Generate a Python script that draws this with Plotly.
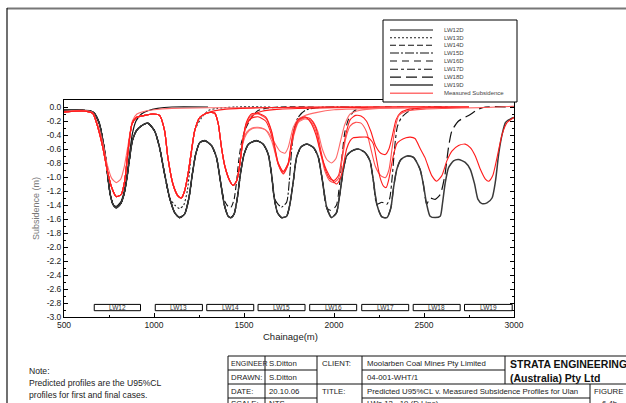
import plotly.graph_objects as go

# ---------------- data ----------------
# Final predicted profile (LW19D): chainage (m), subsidence (m)
final_x = [500, 560, 620, 650, 669, 697, 716, 731, 744, 757, 772, 790, 815, 833, 850, 865, 880, 902, 930, 965,
           1003, 1031, 1059, 1087, 1115, 1142, 1170, 1194, 1213, 1232, 1254, 1282, 1319, 1347, 1369, 1390, 1412,
           1428, 1445, 1463, 1480, 1500, 1525, 1569, 1606, 1634, 1653, 1668, 1686, 1709, 1737, 1755, 1774, 1792,
           1817, 1848, 1886, 1913, 1936, 1960, 1986, 2014, 2032, 2051, 2070, 2098, 2135, 2172, 2200, 2219, 2238,
           2266, 2294, 2316, 2331, 2349, 2372, 2405, 2442, 2478, 2496, 2515, 2534, 2562, 2590, 2602, 2617, 2636,
           2664, 2692, 2729, 2757, 2781, 2800, 2822, 2850, 2878, 2897, 2915, 2934, 2953, 2981, 3000]
final_y = [-0.04, -0.04, -0.05, -0.06, -0.09, -0.24, -0.48, -0.72, -1.01, -1.25, -1.39, -1.44, -1.38, -1.25, -1.01,
           -0.72, -0.48, -0.34, -0.27, -0.23, -0.34, -0.58, -0.96, -1.30, -1.51, -1.58, -1.53, -1.30, -0.96, -0.67,
           -0.51, -0.48, -0.55, -0.72, -1.06, -1.39, -1.56, -1.58, -1.53, -1.30, -0.96, -0.68, -0.53, -0.48, -0.53,
           -0.67, -0.96, -1.30, -1.51, -1.58, -1.56, -1.39, -1.06, -0.72, -0.57, -0.53, -0.58, -0.72, -1.06, -1.44,
           -1.58, -1.51, -1.25, -0.91, -0.70, -0.63, -0.60, -0.65, -0.77, -1.06, -1.39, -1.57, -1.58, -1.44, -1.15,
           -0.89, -0.75, -0.70, -0.72, -0.89, -1.10, -1.39, -1.56, -1.58, -1.56, -1.39, -1.10, -0.87, -0.77, -0.75,
           -0.79, -0.89, -1.10, -1.32, -1.38, -1.37, -1.30, -1.06, -0.67, -0.39, -0.22, -0.17, -0.15]

# Earlier predicted profiles follow the final one up to their last panel, then recover (tails)
lw12d_tail_x = [790, 815, 833, 850, 865, 880, 900, 930, 970, 1020, 1100, 1300]
lw12d_tail_y = [-1.42, -1.36, -1.22, -0.98, -0.65, -0.38, -0.20, -0.10, -0.05, -0.02, 0.0, 0.0]
lw13d_tail_x = [1115, 1142, 1165, 1185, 1200, 1212, 1228, 1265, 1302, 1350, 1450, 1650]
lw13d_tail_y = [-1.40, -1.45, -1.40, -1.20, -0.85, -0.58, -0.32, -0.15, -0.05, -0.02, 0.0, 0.0]
lw14d_tail_x = [1390, 1412, 1428, 1445, 1458, 1470, 1485, 1504, 1541, 1578, 1620, 1700, 1900]
lw14d_tail_y = [-1.33, -1.42, -1.43, -1.32, -1.08, -0.78, -0.52, -0.34, -0.15, -0.05, -0.02, 0.0, 0.0]
lw15d_tail_x = [1686, 1709, 1737, 1752, 1765, 1780, 1800, 1839, 1900, 1950, 2150]
lw15d_tail_y = [-1.38, -1.43, -1.36, -1.05, -0.60, -0.30, -0.15, -0.05, -0.01, 0.0, 0.0]
lw16d_tail_x = [1986, 2014, 2030, 2045, 2060, 2080, 2110, 2160, 2220, 2420]
lw16d_tail_y = [-1.48, -1.40, -1.12, -0.70, -0.36, -0.18, -0.06, -0.01, 0.0, 0.0]
lw17d_tail_x = [2266, 2294, 2310, 2325, 2338, 2352, 2375, 2410, 2440, 2500, 2700]
lw17d_tail_y = [-1.36, -1.39, -1.30, -0.95, -0.55, -0.28, -0.15, -0.07, -0.03, 0.0, 0.0]
lw18d_tail_x = [2534, 2562, 2590, 2602, 2617, 2636, 2655, 2692, 2748, 2804, 2841, 3000]
lw18d_tail_y = [-1.30, -1.32, -1.25, -1.15, -0.96, -0.58, -0.34, -0.20, -0.12, -0.03, 0.0, 0.0]

profile_names = ["LW12D", "LW13D", "LW14D", "LW15D", "LW16D", "LW17D", "LW18D", "LW19D"]

# Measured subsidence surveys (segments)
m12a_x = [500, 560, 620, 660, 688, 716, 740, 765, 790, 815, 835, 852, 865, 880, 905, 950, 1000, 1100, 1300, 1600,
          2000, 2400, 2750]
m12a_y = [-0.06, -0.05, -0.05, -0.08, -0.25, -0.52, -0.82, -1.02, -1.08, -1.03, -0.85, -0.60, -0.40, -0.20, -0.10,
          -0.06, -0.04, -0.02, -0.01, -0.01, 0.0, 0.0, 0.0]
m12b_x = [500, 560, 620, 660, 688, 716, 740, 765, 790, 818, 837, 852, 865, 878, 902, 949, 995]
m12b_y = [-0.07, -0.06, -0.06, -0.09, -0.29, -0.58, -0.90, -1.15, -1.28, -1.25, -1.06, -0.72, -0.43, -0.24, -0.15,
          -0.12, -0.10]
m13_x = [1031, 1059, 1077, 1105, 1133, 1152, 1170, 1189, 1208, 1226, 1254, 1300]
m13_y = [-0.12, -0.34, -0.72, -1.10, -1.27, -1.30, -1.20, -0.96, -0.63, -0.34, -0.15, -0.08]
m14_x = [1338, 1357, 1375, 1394, 1422, 1440, 1460, 1475]
m14_y = [-0.09, -0.24, -0.58, -0.85, -1.06, -1.12, -1.05, -0.85]

s2_tail_x = [1400, 1600, 2000, 2400, 2750]
s2_tail_y = [-0.03, -0.01, 0.0, 0.0, 0.0]
s3_tail_x = [1494, 1513, 1541, 1560, 1600, 1700, 2000, 2400, 2750]
s3_tail_y = [-0.48, -0.24, -0.15, -0.10, -0.06, -0.03, -0.01, 0.0, 0.0]
s4_tail_x = [1494, 1515, 1545, 1578, 1610, 1634, 1653, 1672, 1700, 1727, 1745, 1758, 1774, 1802, 1839, 1900, 2000,
             2200, 2500, 2750]
s4_tail_y = [-0.50, -0.36, -0.30, -0.29, -0.31, -0.36, -0.44, -0.52, -0.63, -0.66, -0.58, -0.45, -0.29, -0.17,
             -0.12, -0.08, -0.04, -0.02, -0.01, 0.0]
s5_tail_x = [1494, 1515, 1545, 1578, 1620, 1653, 1672, 1690, 1718, 1746, 1760, 1774, 1802, 1839, 1880, 1910, 1935,
             1960, 1986, 2010, 2035, 2060, 2090, 2140, 2250, 2500, 2750]
s5_tail_y = [-0.52, -0.38, -0.31, -0.30, -0.33, -0.48, -0.65, -0.82, -0.96, -0.82, -0.60, -0.43, -0.22, -0.17,
             -0.20, -0.35, -0.60, -0.75, -0.80, -0.74, -0.50, -0.25, -0.10, -0.05, -0.02, -0.01, 0.0]
s6_tail_x = [1494, 1513, 1541, 1578, 1620, 1653, 1672, 1690, 1718, 1746, 1760, 1774, 1802, 1839, 1870, 1900, 1925,
             1950, 1975, 2000, 2025, 2045, 2065, 2090, 2120, 2150, 2180, 2205, 2230, 2260, 2285, 2305, 2325, 2345,
             2370, 2420, 2550, 2750]
s6_tail_y = [-0.48, -0.26, -0.16, -0.14, -0.20, -0.40, -0.62, -0.82, -0.95, -0.82, -0.60, -0.40, -0.20, -0.15,
             -0.17, -0.30, -0.60, -0.88, -1.02, -1.05, -0.98, -0.70, -0.40, -0.18, -0.12, -0.13, -0.20, -0.35,
             -0.55, -0.66, -0.68, -0.60, -0.40, -0.18, -0.08, -0.03, -0.01, 0.0]
s7_tail_x = [1494, 1513, 1541, 1578, 1620, 1653, 1672, 1690, 1718, 1746, 1760, 1774, 1802, 1839, 1870, 1900, 1925,
             1950, 1975, 2000, 2025, 2045, 2065, 2090, 2120, 2150, 2180, 2205, 2230, 2260, 2285, 2305, 2322, 2340,
             2360, 2400, 2500, 2617, 2800, 3000]
s7_tail_y = [-0.47, -0.24, -0.12, -0.10, -0.16, -0.36, -0.60, -0.80, -0.93, -0.80, -0.58, -0.38, -0.20, -0.15,
             -0.20, -0.35, -0.65, -0.92, -1.05, -1.08, -1.02, -0.75, -0.45, -0.27, -0.22, -0.23, -0.35, -0.60,
             -0.85, -0.98, -1.01, -0.90, -0.60, -0.30, -0.12, -0.06, -0.03, -0.02, -0.01, 0.01]
s8_tail_x = [1494, 1513, 1541, 1578, 1620, 1653, 1672, 1690, 1718, 1746, 1760, 1774, 1802, 1839, 1870, 1900, 1930,
             1958, 1986, 2014, 2030, 2042, 2056, 2070, 2090, 2107, 2144, 2182, 2200, 2219, 2238, 2256, 2275, 2290,
             2303, 2318, 2331, 2350, 2367, 2400, 2424, 2450, 2480, 2505, 2530, 2543, 2571, 2599, 2627, 2655, 2692,
             2729, 2757, 2785, 2813, 2841, 2860, 2882, 2906, 2934, 2962, 3000]
s8_tail_y = [-0.46, -0.22, -0.10, -0.09, -0.14, -0.34, -0.58, -0.80, -0.92, -0.80, -0.56, -0.36, -0.18, -0.14,
             -0.22, -0.40, -0.70, -0.90, -1.03, -1.10, -1.05, -0.96, -0.78, -0.60, -0.48, -0.44, -0.43, -0.43,
             -0.46, -0.53, -0.77, -1.01, -1.13, -1.15, -1.05, -0.85, -0.68, -0.52, -0.48, -0.44, -0.43, -0.45,
             -0.60, -0.72, -0.90, -0.98, -1.06, -0.98, -0.77, -0.63, -0.55, -0.53, -0.58, -0.70, -0.89, -1.03,
             -1.06, -0.98, -0.72, -0.39, -0.22, -0.15]

# Longwall panel labels along the bottom
lw_names = ["LW12", "LW13", "LW14", "LW15", "LW16", "LW17", "LW18", "LW19"]
lw_start = [668, 1007, 1293, 1578, 1865, 2154, 2440, 2725]
lw_end = [925, 1269, 1554, 1839, 2126, 2415, 2701, 2990]
lw_box_top = -2.82
lw_box_bottom = -2.91

y_tickvals = [round(-0.2 * i, 1) for i in range(16)]
y_ticktext = ["0.0", "-0.2", "-0.4", "-0.6", "-0.8", "-1.0", "-1.2", "-1.4", "-1.6", "-1.8", "-2.0", "-2.2",
              "-2.4", "-2.6", "-2.8", "-3.0"]
x_tickvals = [500, 1000, 1500, 2000, 2500, 3000]

# ---------------- figure ----------------
FONT = "Liberation Sans, Arial, sans-serif"
L, R, T, B = 64, 514, 100, 317
W, H = R - L, B - T


def px(x):
    return (x - L) / W


def py(y):
    return (B - y) / H


def build(cut_tail_x, cut_tail_y):
    xs = [x for x in final_x if x < cut_tail_x[0]] + cut_tail_x
    ys = [y for x, y in zip(final_x, final_y) if x < cut_tail_x[0]] + cut_tail_y
    return xs, ys


tails = [(lw12d_tail_x, lw12d_tail_y), (lw13d_tail_x, lw13d_tail_y), (lw14d_tail_x, lw14d_tail_y),
         (lw15d_tail_x, lw15d_tail_y), (lw16d_tail_x, lw16d_tail_y), (lw17d_tail_x, lw17d_tail_y),
         (lw18d_tail_x, lw18d_tail_y)]
profiles = [build(tx, ty) for tx, ty in tails] + [(final_x, final_y)]

styles = [
    dict(color="#111111", dash="solid", width=1.2),
    dict(color="#222222", dash="2px,2px", width=1.1),
    dict(color="#111111", dash="6px,3px", width=1.1),
    dict(color="#111111", dash="9px,2px,2px,2px", width=1.1),
    dict(color="#111111", dash="7px,5px", width=1.1),
    dict(color="#111111", dash="8px,3px,3px,3px", width=1.1),
    dict(color="#111111", dash="11px,5px", width=1.2),
    dict(color="#3a3a3a", dash="solid", width=1.5),
]

fig = go.Figure()
for name, (xs, ys), st in zip(profile_names, profiles, styles):
    fig.add_trace(go.Scatter(x=xs, y=ys, mode="lines", name=name,
                             line=dict(color=st["color"], dash=st["dash"], width=st["width"],
                                       shape="spline", smoothing=0.6)))

surveys = [
    (m12a_x, m12a_y),
    (m12b_x + m13_x + s2_tail_x, m12b_y + m13_y + s2_tail_y),
    (m12b_x + m13_x + m14_x + s3_tail_x, m12b_y + m13_y + m14_y + s3_tail_y),
    (m12b_x + m13_x + m14_x + s4_tail_x, m12b_y + m13_y + m14_y + s4_tail_y),
    (m12b_x + m13_x + m14_x + s5_tail_x, m12b_y + m13_y + m14_y + s5_tail_y),
    (m12b_x + m13_x + m14_x + s6_tail_x, m12b_y + m13_y + m14_y + s6_tail_y),
    (m12b_x + m13_x + m14_x + s7_tail_x, m12b_y + m13_y + m14_y + s7_tail_y),
    (m12b_x + m13_x + m14_x + s8_tail_x, m12b_y + m13_y + m14_y + s8_tail_y),
]
red_cols = ["#ff6a6a", "#ff1a1a", "#ff1a1a", "#ff6a6a", "#ff6a6a", "#ff1a1a", "#ff5050", "#ff1a1a"]
for (xs, ys), c in zip(surveys, red_cols):
    fig.add_trace(go.Scatter(x=xs, y=ys, mode="lines", name="Measured Subsidence", showlegend=False,
                             line=dict(color=c, width=1.1, shape="spline", smoothing=0.6)))

shapes = []
annotations = []

# LW panel boxes
for nm, a, b in zip(lw_names, lw_start, lw_end):
    shapes.append(dict(type="rect", xref="x", yref="y", x0=a, x1=b, y0=lw_box_bottom, y1=lw_box_top,
                       line=dict(color="black", width=1), fillcolor="white"))
    annotations.append(dict(x=(a + b) / 2, y=(lw_box_top + lw_box_bottom) / 2, xref="x", yref="y", text=nm,
                            showarrow=False, font=dict(family=FONT, size=6.5, color="#333")))

# legend (drawn by hand to match the compact original)
shapes.append(dict(type="rect", xref="paper", yref="paper", x0=px(383), x1=px(517), y0=py(102), y1=py(20),
                   line=dict(color="black", width=1), fillcolor="white", layer="above"))
leg_rows = [30, 37.8, 45.3, 53, 61, 69.2, 77.2, 85, 93.2]
leg_labels = profile_names + ["Measured Subsidence"]
leg_styles = styles + [dict(color="#ff7070", dash="solid", width=1.5)]
for yy, lab, st in zip(leg_rows, leg_labels, leg_styles):
    shapes.append(dict(type="line", xref="paper", yref="paper", x0=px(390), x1=px(433), y0=py(yy), y1=py(yy),
                       line=dict(color=st["color"], dash=st["dash"], width=st["width"]), layer="above"))
    annotations.append(dict(x=px(442), y=py(yy), xref="paper", yref="paper", text=lab, showarrow=False,
                            xanchor="left", yanchor="middle", font=dict(family=FONT, size=6, color="#444")))

# page frame
shapes.append(dict(type="line", xref="paper", yref="paper", x0=px(7), x1=px(626), y0=py(8.5), y1=py(8.5),
                   line=dict(color="#777", width=2)))
shapes.append(dict(type="line", xref="paper", yref="paper", x0=px(7), x1=px(7), y0=py(8), y1=py(403),
                   line=dict(color="#111", width=1.2)))

# axis titles
annotations.append(dict(x=px(290), y=py(344), xref="paper", yref="paper", text="Chainage(m)", showarrow=False,
                        font=dict(family=FONT, size=9.5, color="#222")))
annotations.append(dict(x=px(29), y=py(209), xref="paper", yref="paper", text="Subsidence (m)", showarrow=False,
                        textangle=-90, font=dict(family=FONT, size=9, color="#777")))

# notes
for yy, t in zip([371, 383, 395], ["Note:", "Predicted profiles are the U95%CL",
                                    "profiles for first and final cases."]):
    annotations.append(dict(x=px(27), y=py(yy), xref="paper", yref="paper", text=t, showarrow=False,
                            xanchor="left", yanchor="middle", font=dict(family=FONT, size=8.6, color="#222")))

# title block table
def hline(y, x0, x1):
    shapes.append(dict(type="line", xref="paper", yref="paper", x0=px(x0), x1=px(x1), y0=py(y), y1=py(y),
                       line=dict(color="#111", width=1)))


def vline(x, y0, y1):
    shapes.append(dict(type="line", xref="paper", yref="paper", x0=px(x), x1=px(x), y0=py(y0), y1=py(y1),
                       line=dict(color="#111", width=1)))


hline(356, 228, 626)
hline(370, 228, 317)
hline(370, 362, 505)
hline(384, 228, 626)
hline(398, 228, 317)
hline(398, 362, 590)
for xx in [228, 265, 317, 362]:
    vline(xx, 356, 403)
vline(505, 356, 384)
vline(590, 384, 403)

cells = [
    (267, 363, "S.Ditton"), (320, 363, "CLIENT:"),
    (365, 363, "Moolarben Coal Mines Pty Limited"),
    (229, 377, "DRAWN:"), (267, 377, "S.Ditton"), (365, 377, "04-001-WHT/1"),
    (229, 391, "DATE:"), (267, 391, "20.10.06"), (320, 391, "TITLE:"),
    (365, 391, "Predicted U95%CL v. Measured Subsidence Profiles for Ulan"), (592, 391, "FIGURE"),
    (229, 403, "SCALE:"), (267, 403, "NTS"), (365, 403, "LWs 12 - 19 (D Line)"), (600, 403, "6.4b"),
]
annotations.append(dict(x=px(229), y=py(363), xref="paper", yref="paper", text="ENGINEER", showarrow=False,
                        xanchor="left", yanchor="middle", font=dict(family=FONT, size=7, color="#222")))
for xx, yy, t in cells:
    annotations.append(dict(x=px(xx), y=py(yy), xref="paper", yref="paper", text=t, showarrow=False,
                            xanchor="left", yanchor="middle", font=dict(family=FONT, size=7.8, color="#222")))
annotations.append(dict(x=px(508), y=py(364), xref="paper", yref="paper", text="<b>STRATA ENGINEERING</b>",
                        showarrow=False, xanchor="left", yanchor="middle",
                        font=dict(family=FONT, size=10.5, color="#111")))
annotations.append(dict(x=px(508), y=py(378), xref="paper", yref="paper", text="<b>(Australia) Pty Ltd</b>",
                        showarrow=False, xanchor="left", yanchor="middle",
                        font=dict(family=FONT, size=10.5, color="#111")))

fig.update_layout(
    width=626, height=403,
    margin=dict(l=L, r=626 - R, t=T, b=403 - B, pad=0),
    paper_bgcolor="white", plot_bgcolor="white",
    showlegend=False,
    font=dict(family=FONT, size=8.5, color="#222"),
    shapes=shapes, annotations=annotations,
    xaxis=dict(range=[500, 3000], tickvals=x_tickvals, ticks="inside", ticklen=4, tickwidth=1,
               tickcolor="black", showline=True, linecolor="black", linewidth=1, mirror=True,
               showgrid=False, zeroline=False, tickfont=dict(size=8.5, color="#222"),
               minor=dict(ticks="inside", ticklen=2, dtick=250, tick0=500, tickcolor="black", showgrid=False)),
    yaxis=dict(range=[-3.0, 0.1], tickvals=y_tickvals, ticktext=y_ticktext, ticks="inside", ticklen=4,
               tickwidth=1, tickcolor="black", showline=True, linecolor="black", linewidth=1, mirror="ticks",
               showgrid=False, zeroline=False, tickfont=dict(size=8.5, color="#222"),
               minor=dict(ticks="inside", ticklen=2, dtick=0.1, tick0=0, tickcolor="black", showgrid=False)),
)

fig.write_html("out.html", config={"displayModeBar": False},
               post_script="document.body.style.margin='0px';document.body.style.overflow='hidden';")
